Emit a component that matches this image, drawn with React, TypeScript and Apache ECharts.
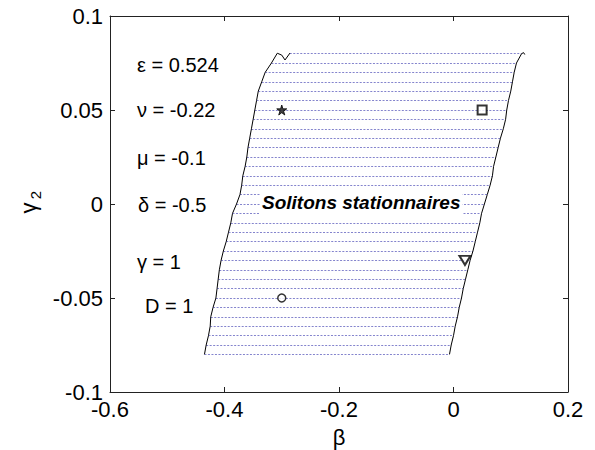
import React, { useEffect, useRef } from "react";
import * as echarts from "echarts";

// Rows of the hatched (stationary soliton) region: gamma2 values
const gammaRows = [0.08, 0.075, 0.07, 0.065, 0.06, 0.055, 0.05, 0.045, 0.04, 0.035, 0.03, 0.025, 0.02, 0.015, 0.01, 0.005, 0, -0.005, -0.01, -0.015, -0.02, -0.025, -0.03, -0.035, -0.04, -0.045, -0.05, -0.055, -0.06, -0.065, -0.07, -0.075, -0.08];
// Left boundary beta for each row
const leftEdge = [-0.286, -0.318, -0.329, -0.335, -0.341, -0.344, -0.347, -0.35, -0.353, -0.356, -0.359, -0.361, -0.364, -0.368, -0.37, -0.373, -0.379, -0.386, -0.389, -0.393, -0.397, -0.402, -0.406, -0.409, -0.411, -0.413, -0.415, -0.42, -0.424, -0.425, -0.428, -0.432, -0.435];
// Right boundary beta for each row
const rightEdge = [0.119, 0.11, 0.106, 0.103, 0.1, 0.096, 0.093, 0.091, 0.087, 0.082, 0.078, 0.074, 0.07, 0.068, 0.064, 0.059, 0.054, 0.049, 0.046, 0.042, 0.038, 0.034, 0.029, 0.025, 0.021, 0.017, 0.014, 0.01, 0.007, 0.003, 0.0, -0.004, -0.007];
// Small irregularities at the top of the boundaries
const leftEdgeTip = [[-0.2856, 0.0803], [-0.2943, 0.0766], [-0.3, 0.0792], [-0.3078, 0.0802]];
const rightEdgeTip = [[0.1245, 0.0795], [0.1225, 0.0805]];

// Marked points
const starPoint = [-0.3, 0.05];
const squarePoint = [0.05, 0.05];
const trianglePoint = [0.02, -0.03];
const circlePoint = [-0.3, -0.05];

// Parameter annotations
const paramLabels = ["ε = 0.524", "ν = -0.22", "μ = -0.1", "δ = -0.5", "γ = 1", "D = 1"];
const regionLabel = "Solitons stationnaires";
const xAxisTitle = "β";
const yAxisTitleMain = "γ";
const yAxisTitleSub = "2";

const FONT = "'Liberation Sans', Arial, Helvetica, sans-serif";
const STAR = "path://M50,0 L61,35 L98,35 L68,57 L79,91 L50,70 L21,91 L32,57 L2,35 L39,35 Z";

export default function App() {
  const ref = useRef<HTMLDivElement>(null);

  useEffect(() => {
    document.body.style.margin = "0";
    const chart = echarts.init(ref.current!, undefined, { renderer: "svg" });

    const hatch = gammaRows.map((g, i) => ({ coords: [[leftEdge[i], g], [rightEdge[i], g]] }));
    const leftLine = [...leftEdgeTip, ...gammaRows.slice(1).map((g, i) => [leftEdge[i + 1], g])];
    const rightLine = [...rightEdgeTip, ...gammaRows.map((g, i) => [rightEdge[i], g])];

    const axisCommon = {
      type: "value" as const,
      axisLine: { show: true, onZero: false, lineStyle: { color: "#222", width: 1 } },
      axisTick: { show: true, inside: true, length: 5, lineStyle: { color: "#222" } },
      splitLine: { show: false },
    };

    const paramY = [65, 110, 158, 205, 262, 306];
    const paramX = [137, 137, 137, 138, 137, 145];

    chart.setOption({
      animation: false,
      backgroundColor: "#fff",
      grid: { left: 110, right: 27, top: 16, bottom: 58, show: false },
      xAxis: [
        {
          ...axisCommon,
          position: "bottom",
          min: -0.6,
          max: 0.2,
          interval: 0.2,
          axisLabel: { color: "#000", fontSize: 22, fontFamily: FONT, margin: 6 },
        },
        {
          ...axisCommon,
          position: "top",
          min: -0.6,
          max: 0.2,
          interval: 0.2,
          axisLabel: { show: false },
        },
      ],
      yAxis: [
        {
          ...axisCommon,
          position: "left",
          min: -0.1,
          max: 0.1,
          interval: 0.05,
          axisLabel: { color: "#000", fontSize: 22, fontFamily: FONT, margin: 7 },
        },
        {
          ...axisCommon,
          position: "right",
          min: -0.1,
          max: 0.1,
          interval: 0.05,
          axisLabel: { show: false },
        },
      ],
      series: [
        {
          type: "lines",
          coordinateSystem: "cartesian2d",
          data: hatch,
          silent: true,
          z: 1,
          lineStyle: { color: "#5050b8", width: 1, type: [2, 1.5], opacity: 0.7 },
        },
        {
          type: "line",
          data: leftLine,
          symbol: "none",
          z: 3,
          lineStyle: { color: "#000", width: 1 },
        },
        {
          type: "line",
          data: rightLine,
          symbol: "none",
          z: 3,
          lineStyle: { color: "#000", width: 1 },
        },
        {
          type: "scatter",
          data: [starPoint],
          symbol: STAR,
          symbolSize: 10,
          z: 5,
          itemStyle: { color: "#111", borderColor: "#000", borderWidth: 1 },
        },
        {
          type: "scatter",
          data: [squarePoint],
          symbol: "rect",
          symbolSize: 9,
          z: 5,
          itemStyle: { color: "#fff", borderColor: "#000", borderWidth: 2 },
        },
        {
          type: "scatter",
          data: [trianglePoint],
          symbol: "triangle",
          symbolRotate: 180,
          symbolSize: [11, 9],
          z: 5,
          itemStyle: { color: "#fff", borderColor: "#000", borderWidth: 2 },
        },
        {
          type: "scatter",
          data: [circlePoint],
          symbol: "circle",
          symbolSize: 8,
          z: 5,
          itemStyle: { color: "#fff", borderColor: "#000", borderWidth: 1.5 },
        },
      ],
      graphic: [
        ...paramLabels.map((t, i) => ({
          type: "text",
          x: paramX[i],
          y: paramY[i],
          z: 10,
          style: { text: t, fill: "#000", font: `20px ${FONT}`, verticalAlign: "middle", align: "left" },
        })),
        {
          type: "text",
          x: 260,
          y: 202,
          z: 10,
          style: {
            text: regionLabel,
            fill: "#000",
            font: `italic bold 19px ${FONT}`,
            verticalAlign: "middle",
            align: "left",
            backgroundColor: "#fff",
            padding: [3, 2, 3, 2],
          },
        },
        {
          type: "text",
          x: 339,
          y: 437,
          z: 10,
          style: { text: xAxisTitle, fill: "#000", font: `22px ${FONT}`, verticalAlign: "middle", align: "center" },
        },
        {
          type: "group",
          x: 28,
          y: 204,
          rotation: Math.PI / 2,
          children: [
            {
              type: "text",
              x: -4,
              y: 0,
              style: { text: yAxisTitleMain, fill: "#000", font: `22px ${FONT}`, verticalAlign: "middle", align: "center" },
            },
            {
              type: "text",
              x: 9,
              y: 7,
              style: { text: yAxisTitleSub, fill: "#000", font: `15px ${FONT}`, verticalAlign: "middle", align: "center" },
            },
          ],
        },
      ],
    });

    return () => chart.dispose();
  }, []);

  return <div ref={ref} style={{ width: 595, height: 450 }} />;
}
